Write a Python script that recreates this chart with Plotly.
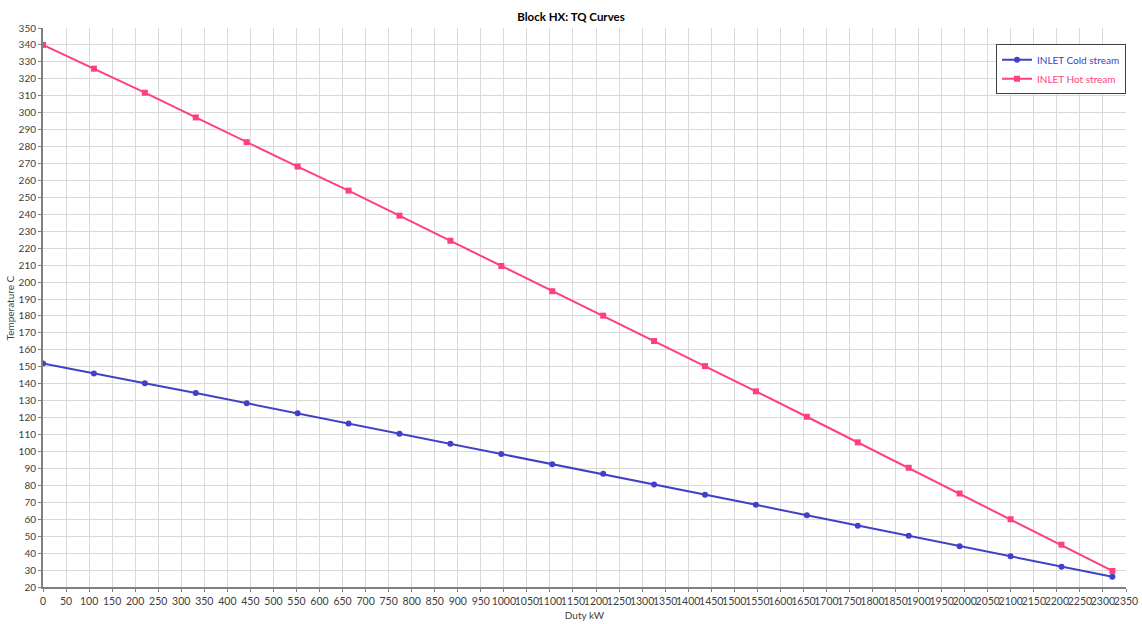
import plotly.graph_objects as go

duty_kw = [0, 110.5, 221, 331.5, 442, 552.5, 663, 773.5, 884, 994.5, 1105,
           1215.5, 1326, 1436.5, 1547, 1657.5, 1768, 1878.5, 1989, 2099.5,
           2210, 2320.5]
cold_temp = [152, 146, 140.3, 134.5, 128.5, 122.5, 116.5, 110.5, 104.5, 98.5,
             92.5, 86.8, 80.5, 74.5, 68.5, 62.3, 56.2, 50.2, 44.1, 38.2, 32, 26]
hot_temp = [340, 326, 311.8, 297.2, 282.6, 268.2, 254, 239.2, 224.4, 209.5,
            194.6, 180.2, 165.2, 150.4, 135.5, 120.5, 105.4, 90.4, 75.2, 60,
            45, 29.5]

COLD = "#4040c8"
HOT = "#ff3f80"
FONT = "Lato"

x_ticks = list(range(0, 2351, 50))
y_ticks = list(range(20, 351, 10))

fig = go.Figure()
fig.add_trace(go.Scatter(
    x=duty_kw, y=cold_temp, mode="lines+markers",
    name=f"<span style='color:{COLD}'>INLET Cold stream</span>",
    line=dict(color=COLD, width=2),
    marker=dict(symbol="circle", size=6, color=COLD),
))
fig.add_trace(go.Scatter(
    x=duty_kw, y=hot_temp, mode="lines+markers",
    name=f"<span style='color:{HOT}'>INLET Hot stream</span>",
    line=dict(color=HOT, width=2),
    marker=dict(symbol="square", size=6, color=HOT),
))

axis_common = dict(
    showgrid=True, gridcolor="#d9d9d9", gridwidth=1,
    showline=True, linecolor="#808080", linewidth=2,
    ticks="outside", ticklen=3, tickcolor="#808080", tickwidth=1,
    zeroline=False, mirror=False, automargin=False, tickangle=0,
)

fig.update_layout(
    width=1142, height=624,
    paper_bgcolor="white", plot_bgcolor="white",
    margin=dict(l=43, r=16, t=28, b=37),
    title=dict(text="<b>Block HX: TQ Curves</b>", x=0.5, xanchor="center",
               y=0.973, yanchor="middle",
               font=dict(family=FONT, size=11.5, color="#000000")),
    xaxis=dict(range=[0, 2350], tickvals=x_ticks,
               ticktext=[str(v) for v in x_ticks],
               tickfont=dict(family=FONT, size=10.5, color="#404040"),
               title=dict(text="Duty kW", standoff=6,
                          font=dict(family=FONT, size=10, color="#404040")),
               **axis_common),
    yaxis=dict(range=[20, 350], tickvals=y_ticks,
               ticktext=[str(v) for v in y_ticks],
               tickfont=dict(family=FONT, size=10, color="#404040"),
               **axis_common),
    legend=dict(x=1.0, xanchor="right", y=0.971, yanchor="top",
                bgcolor="white", bordercolor="#404040", borderwidth=1,
                font=dict(family=FONT, size=10),
                itemwidth=30, tracegroupgap=0),
    showlegend=True,
)

fig.add_annotation(
    text="Temperature C", textangle=-90, showarrow=False,
    xref="paper", yref="paper", x=-0.0305, y=0.5,
    xanchor="center", yanchor="middle",
    font=dict(family=FONT, size=10, color="#404040"),
)

fig.write_html("out.html")
